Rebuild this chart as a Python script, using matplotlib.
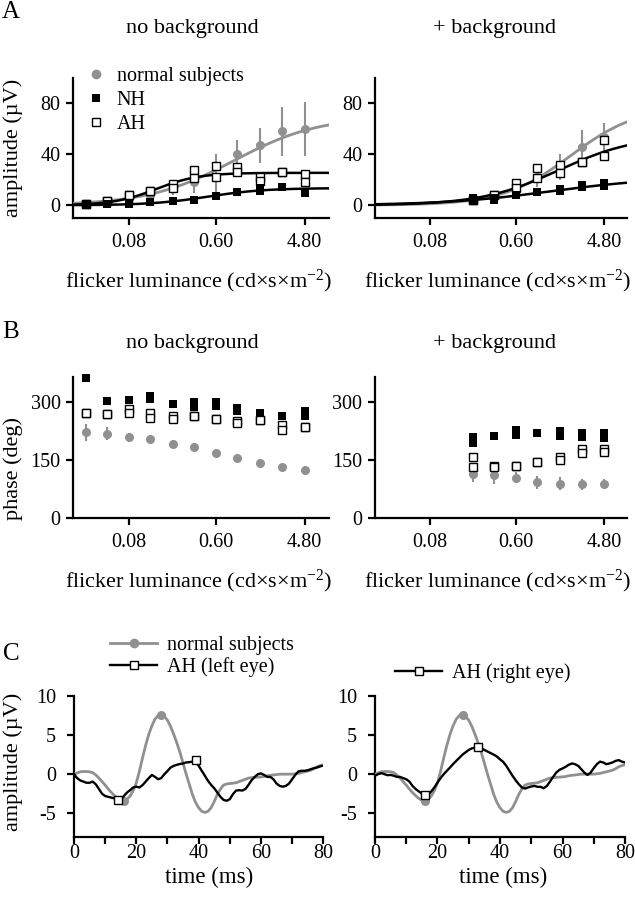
import numpy as np
import matplotlib
matplotlib.use("Agg")
import matplotlib.pyplot as plt
from matplotlib.lines import Line2D

plt.rcParams['font.family'] = ['Liberation Serif', 'DejaVu Serif']
plt.rcParams['mathtext.fontset'] = 'custom'
plt.rcParams['mathtext.rm'] = 'Liberation Serif'
plt.rcParams['mathtext.it'] = 'Liberation Serif:italic'

# ---------------- data ----------------
# flicker luminance (cd s m^-2), 11 steps
lum_all = [0.029, 0.048, 0.08, 0.13, 0.22, 0.36, 0.60, 1.0, 1.7, 2.85, 4.8]
lum_bg = [0.22, 0.36, 0.60, 1.0, 1.7, 2.85, 4.8]
lum_ticks = [0.08, 0.60, 4.80]
lum_ticklabels = ["0.08", "0.60", "4.80"]

# A: amplitude, no background
amp_normal_nobg = [1, 2, 4, 8, 14, 18, 22, 40, 47, 58, 60]
amp_normal_nobg_err = [1, 1, 2, 3, 6, 8, 18, 11, 14, 19, 21]
amp_NH_nobg_a = [1.3, 1.3, 1.3, 2.6, 3.6, 4.4, 7.5, 10.4, 13.5, 14.0, 9.6]
amp_NH_nobg_b = [1.0, 1.0, 1.5, 2.6, 3.6, 4.4, 7.5, 10.4, 11.0, 14.0, 9.6]
amp_AH_nobg_a = [1, 3, 7.8, 11.4, 16.6, 27.7, 30.8, 30.3, 22.5, 26.4, 24.6]
amp_AH_nobg_b = [1, 3, 7.8, 11.4, 13.5, 21.7, 22.5, 26.4, 19.0, 26.4, 17.9]
# Naka-Rushton fit parameters (Rmax, semi-saturation, exponent)
fit_normal_nobg = (70.0, 0.92, 1.0)
fit_AH_nobg = (25.5, 0.15, 2.0)
fit_NH_nobg = (13.5, 0.5, 1.5)

# A: amplitude, + background
amp_normal_bg = [4, 7, 13, 22, 30, 46, 54]
amp_normal_bg_err = [1, 2, 4, 8, 10, 13, 11]
amp_NH_bg_a = [4.4, 4.4, 8.3, 10.4, 11.6, 16.0, 17.3]
amp_NH_bg_b = [5.5, 5.5, 8.3, 10.4, 13.0, 14.0, 15.0]
amp_AH_bg_a = [4, 7.8, 17.3, 29.5, 32, 34, 51]
amp_AH_bg_b = [4, 7.8, 13.5, 21.2, 25.6, 34, 38.6]
fit_normal_bg = (78.0, 2.2, 1.25)
fit_AH_bg = (55.0, 1.65, 1.1)
fit_NH_bg = (22.0, 1.38, 0.79)

# B: phase, no background
ph_normal_nobg = [222, 218, 209, 205, 191, 183, 167, 155, 143, 133, 124]
ph_normal_nobg_err = [22, 17, 12, 11, 10, 10, 10, 10, 10, 8, 10]
ph_NH_nobg_a = [362, 303, 306, 315, 296, 299, 301, 284, 273, 263, 276]
ph_NH_nobg_b = [362, 303, 306, 308, 296, 287, 290, 277, 270, 263, 263]
ph_AH_nobg_a = [273, 269, 282, 271, 264, 264, 257, 252, 254, 241, 235]
ph_AH_nobg_b = [273, 269, 273, 260, 256, 264, 257, 245, 254, 228, 235]

# B: phase, + background
ph_normal_bg = [115, 111, 104, 92, 89, 87, 89]
ph_normal_bg_err = [22, 22, 14, 16, 16, 15, 13]
ph_NH_bg_a = [209, 212, 228, 219, 224, 221, 221]
ph_NH_bg_b = [195, 212, 215, 219, 211, 209, 206]
ph_AH_bg_a = [157, 135, 135, 146, 159, 178, 178]
ph_AH_bg_b = [133, 131, 135, 146, 150, 167, 172]

# C: waveforms (1 ms steps, 0..80 ms)
time_ms = list(range(0, 81))
wave_normal = [0, 0.15, 0.3, 0.34, 0.34, 0.3, 0.2, -0.1, -0.5, -0.95,
               -1.4, -1.9, -2.35, -2.75, -3.1, -3.35, -3.4, -3.2, -2.8, -2.1,
               -1.1, 0.4, 2.1, 3.7, 5.1, 6.2, 7.05, 7.5, 7.6, 7.4,
               6.9, 6.1, 5.1, 4.0, 2.8, 1.4, 0.0, -1.3, -2.6, -3.6,
               -4.3, -4.75, -4.9, -4.75, -4.3, -3.5, -2.6, -1.9, -1.4, -1.25,
               -1.2, -1.15, -1.1, -0.95, -0.8, -0.65, -0.5, -0.45, -0.4, -0.38,
               -0.35, -0.3, -0.2, -0.15, -0.1, -0.05, 0, 0, 0, 0,
               0, 0.05, 0.1, 0.2, 0.3, 0.4, 0.5, 0.7, 0.95, 1.1, 1.2]
wave_AH_left = [0, -0.5, -0.8, -0.95, -1.1, -1.1, -0.95, -1.3, -1.9, -2.5,
                -2.8, -2.9, -3.0, -3.1, -3.3, -3.2, -2.8, -2.35, -2.05, -1.7,
                -1.6, -1.7, -1.4, -0.95, -0.5, -0.1, -0.35, -0.65, -0.5, 0.0,
                0.4, 0.85, 1.07, 1.2, 1.3, 1.37, 1.5, 1.54, 1.6, 1.75,
                1.07, 0.43, -0.2, -0.85, -1.37, -1.8, -2.35, -2.9, -3.3, -3.4,
                -3.2, -2.56, -2.1, -2.05, -2.1, -1.9, -1.37, -0.77, -0.35, 0.0,
                0.1, -0.1, -0.35, -0.35, -0.65, -1.2, -1.5, -1.6, -1.5, -1.2,
                -0.65, -0.1, 0.35, 0.43, 0.43, 0.5, 0.64, 0.77, 0.85, 1.0, 1.1]
wave_AH_right = [-0.2, 0.0, 0.13, 0.0, -0.13, -0.1, -0.2, -0.35, -0.35, -0.5,
                 -0.65, -0.95, -1.5, -1.9, -2.2, -2.5, -2.65, -2.65, -2.2, -1.7,
                 -1.07, -0.5, 0.0, 0.43, 0.85, 1.3, 1.7, 2.1, 2.5, 2.8,
                 3.1, 3.3, 3.4, 3.5, 3.33, 3.1, 2.9, 2.7, 2.5, 2.26,
                 1.9, 1.58, 1.07, 0.43, -0.2, -0.77, -1.28, -1.7, -1.84, -1.7,
                 -1.58, -1.5, -1.62, -1.62, -1.8, -1.5, -0.95, -0.35, 0.2, 0.55,
                 0.73, 0.94, 1.2, 1.37, 1.28, 1.07, 0.64, 0.2, -0.1, 0.2,
                 0.77, 1.28, 1.6, 1.5, 1.28, 1.37, 1.5, 1.7, 1.8, 1.6, 1.5]
mark_normal = [16, 28]
mark_AH_left = [14, 39]
mark_AH_right = [16, 33]

# ---------------- style ----------------
GRAY = '#909090'
W, H = 635, 899
fig = plt.figure(figsize=(W / 100, H / 100), dpi=100)

TICK_FS = 14.5
LAB_FS = 16
MS_C = 6.5   # circle marker size
MS_S = 6.0   # square marker size
MEW = 1.0


def ax_px(l, t, r, b):
    return fig.add_axes([l / W, 1 - b / H, (r - l) / W, (b - t) / H])


def style(ax, xpad=5.5, ypad=4):
    for s in ['top', 'right']:
        ax.spines[s].set_visible(False)
    for s in ['left', 'bottom']:
        ax.spines[s].set_linewidth(1.6)
    ax.tick_params(which='both', direction='out', length=5, width=1.6,
                   labelsize=TICK_FS, color='black')
    ax.tick_params(axis='x', which='both', pad=xpad)
    ax.tick_params(axis='y', which='both', pad=ypad)


def naka(L, p):
    rmax, s, n = p
    L = np.asarray(L)
    return rmax * L ** n / (L ** n + s ** n)


def lum_axis(ax, xlim):
    ax.set_xscale('log')
    ax.set_xlim(*xlim)
    ax.set_xticks(lum_ticks)
    ax.set_xticklabels(lum_ticklabels)
    ax.minorticks_off()


def gray_errorbar(ax, x, y, err, clip=True):
    eb = ax.errorbar(x, y, yerr=err, fmt='o', color=GRAY, ecolor=GRAY,
                     ms=MS_C, mew=0, elinewidth=1.5, capsize=8, capthick=1.6,
                     zorder=2)
    for cl in eb[1]:
        cl.set_zorder(2.5)
        cl.set_clip_on(clip)
    for bl in eb[2]:
        bl.set_clip_on(clip)
    eb[0].set_clip_on(clip)


def draw_amp(ax, lum, norm, norm_err, nha, nhb, aha, ahb, fits, xlim):
    style(ax)
    lum_axis(ax, xlim)
    ax.set_ylim(-10, 100)
    ax.set_yticks([0, 40, 80])
    gray_errorbar(ax, lum, norm, norm_err)
    xs = np.logspace(np.log10(xlim[0]), np.log10(xlim[1]), 300)
    fn, fa, fh = fits
    ax.plot(xs, naka(xs, fn), color=GRAY, lw=2.0, zorder=3)
    ax.plot(xs, naka(xs, fa), color='black', lw=1.8, zorder=3)
    ax.plot(xs, naka(xs, fh), color='black', lw=1.8, zorder=3)
    for y in (aha, ahb):
        ax.plot(lum, y, 's', mfc='white', mec='black', ms=MS_S, mew=MEW, zorder=4)
    for y in (nha, nhb):
        ax.plot(lum, y, 's', color='black', ms=MS_S, mew=0, zorder=5)


def draw_phase(ax, lum, norm, norm_err, nha, nhb, aha, ahb, xlim):
    style(ax)
    lum_axis(ax, xlim)
    ax.set_ylim(0, 365)
    ax.set_yticks([0, 150, 300])
    gray_errorbar(ax, lum, norm, norm_err, clip=False)
    for y in (nha, nhb):
        ax.plot(lum, y, 's', color='black', ms=MS_S, mew=0, zorder=4, clip_on=False)
    for y in (aha, ahb):
        ax.plot(lum, y, 's', mfc='white', mec='black', ms=MS_S, mew=MEW, zorder=5,
                clip_on=False)


XL_L = (0.0215, 8.5)
XL_R = (0.0218, 8.3)

# ---- Panel A ----
axA1 = ax_px(73, 78, 329, 218)
draw_amp(axA1, lum_all, amp_normal_nobg, amp_normal_nobg_err,
         amp_NH_nobg_a, amp_NH_nobg_b, amp_AH_nobg_a, amp_AH_nobg_b,
         (fit_normal_nobg, fit_AH_nobg, fit_NH_nobg), XL_L)
axA2 = ax_px(375, 78, 627, 218)
draw_amp(axA2, lum_bg, amp_normal_bg, amp_normal_bg_err,
         amp_NH_bg_a, amp_NH_bg_b, amp_AH_bg_a, amp_AH_bg_b,
         (fit_normal_bg, fit_AH_bg, fit_NH_bg), XL_R)

hA = [Line2D([], [], ls='none', marker='o', color=GRAY, ms=MS_C + 0.5, mew=0),
      Line2D([], [], ls='none', marker='s', color='black', ms=MS_S, mew=0),
      Line2D([], [], ls='none', marker='s', mfc='white', mec='black', ms=MS_S, mew=MEW)]
legA = axA1.legend(hA, ['normal subjects', 'NH', 'AH'], loc='upper left',
                   bbox_to_anchor=(86 / W, 1 - 67 / H), bbox_transform=fig.transFigure,
                   frameon=False, fontsize=14.5, handlelength=1.0, handletextpad=0.53,
                   labelspacing=0.23, borderpad=0, borderaxespad=0, numpoints=1)

# ---- Panel B ----
axB1 = ax_px(73, 377, 329, 518)
draw_phase(axB1, lum_all, ph_normal_nobg, ph_normal_nobg_err,
           ph_NH_nobg_a, ph_NH_nobg_b, ph_AH_nobg_a, ph_AH_nobg_b, XL_L)
axB2 = ax_px(375, 377, 627, 518)
draw_phase(axB2, lum_bg, ph_normal_bg, ph_normal_bg_err,
           ph_NH_bg_a, ph_NH_bg_b, ph_AH_bg_a, ph_AH_bg_b, XL_R)


# ---- Panel C ----
def draw_wave(ax, ah, ah_marks):
    style(ax, xpad=0.5, ypad=8)
    ax.set_xlim(0, 80)
    ax.set_ylim(-8, 10)
    ax.set_xticks([0, 20, 40, 60, 80])
    ax.set_xticks([10, 30, 50, 70], minor=True)
    ax.set_yticks([-5, 0, 5, 10])
    ax.set_yticklabels(['-5', '0', '5', '10'])
    ax.plot(time_ms, wave_normal, color=GRAY, lw=2.0, marker='o', ms=MS_C, mew=0,
            markevery=mark_normal, zorder=3)
    ax.plot(time_ms, ah, color='black', lw=1.7, zorder=4)
    ax.plot(time_ms, ah, ls='none', marker='s', mfc='white', mec='black', ms=MS_S,
            mew=MEW, markevery=ah_marks, zorder=5)


axC1 = ax_px(74, 696, 323.3, 836.7)
draw_wave(axC1, wave_AH_left, mark_AH_left)
axC2 = ax_px(375, 696, 625, 836.7)
draw_wave(axC2, wave_AH_right, mark_AH_right)

h_norm = Line2D([], [], color=GRAY, lw=2.0, marker='o', ms=MS_C + 0.5, mew=0)
h_ah = Line2D([], [], color='black', lw=1.7, marker='s', mfc='white', mec='black',
              ms=MS_S, mew=MEW)
axC1.legend([h_norm, h_ah], ['normal subjects', 'AH (left eye)'], loc='upper left',
            bbox_to_anchor=(110 / W, 1 - 636 / H), bbox_transform=fig.transFigure,
            frameon=False, fontsize=14.5, handlelength=2.34, handletextpad=0.48,
            labelspacing=0.1, borderpad=0, borderaxespad=0, numpoints=1)
axC2.legend([h_ah], ['AH (right eye)'], loc='upper left',
            bbox_to_anchor=(395 / W, 1 - 663 / H), bbox_transform=fig.transFigure,
            frameon=False, fontsize=14.5, handlelength=2.34, handletextpad=0.48,
            labelspacing=0.1, borderpad=0, borderaxespad=0, numpoints=1)

# ---- texts ----
def ftext(x, y, s, **kw):
    fig.text(x / W, 1 - y / H, s, **kw)


ftext(11, 12, 'A', ha='center', va='center', fontsize=18)
ftext(11, 332, 'B', ha='center', va='center', fontsize=18)
ftext(11, 654, 'C', ha='center', va='center', fontsize=18)

for yb in (33, 348):
    ftext(192.5, yb, 'no background', ha='center', va='baseline', fontsize=LAB_FS)
    ftext(495, yb, '+ background', ha='center', va='baseline', fontsize=LAB_FS)

xlab = r'flicker luminance (cd×s×m$^{\mathregular{-2}}$)'
for yb in (287, 587):
    ftext(199, yb, xlab, ha='center', va='baseline', fontsize=LAB_FS)
    ftext(497.5, yb, xlab, ha='center', va='baseline', fontsize=LAB_FS)

ftext(209, 883, 'time (ms)', ha='center', va='baseline', fontsize=16.5)
ftext(503, 883, 'time (ms)', ha='center', va='baseline', fontsize=16.5)

ftext(13, 147.5, 'amplitude (µV)', ha='center', va='center', rotation=90, fontsize=LAB_FS)
ftext(13, 468, 'phase (deg)', ha='center', va='center', rotation=90, fontsize=LAB_FS)
ftext(13, 762, 'amplitude (µV)', ha='center', va='center', rotation=90, fontsize=LAB_FS)

fig.savefig('out.png', dpi=100)
